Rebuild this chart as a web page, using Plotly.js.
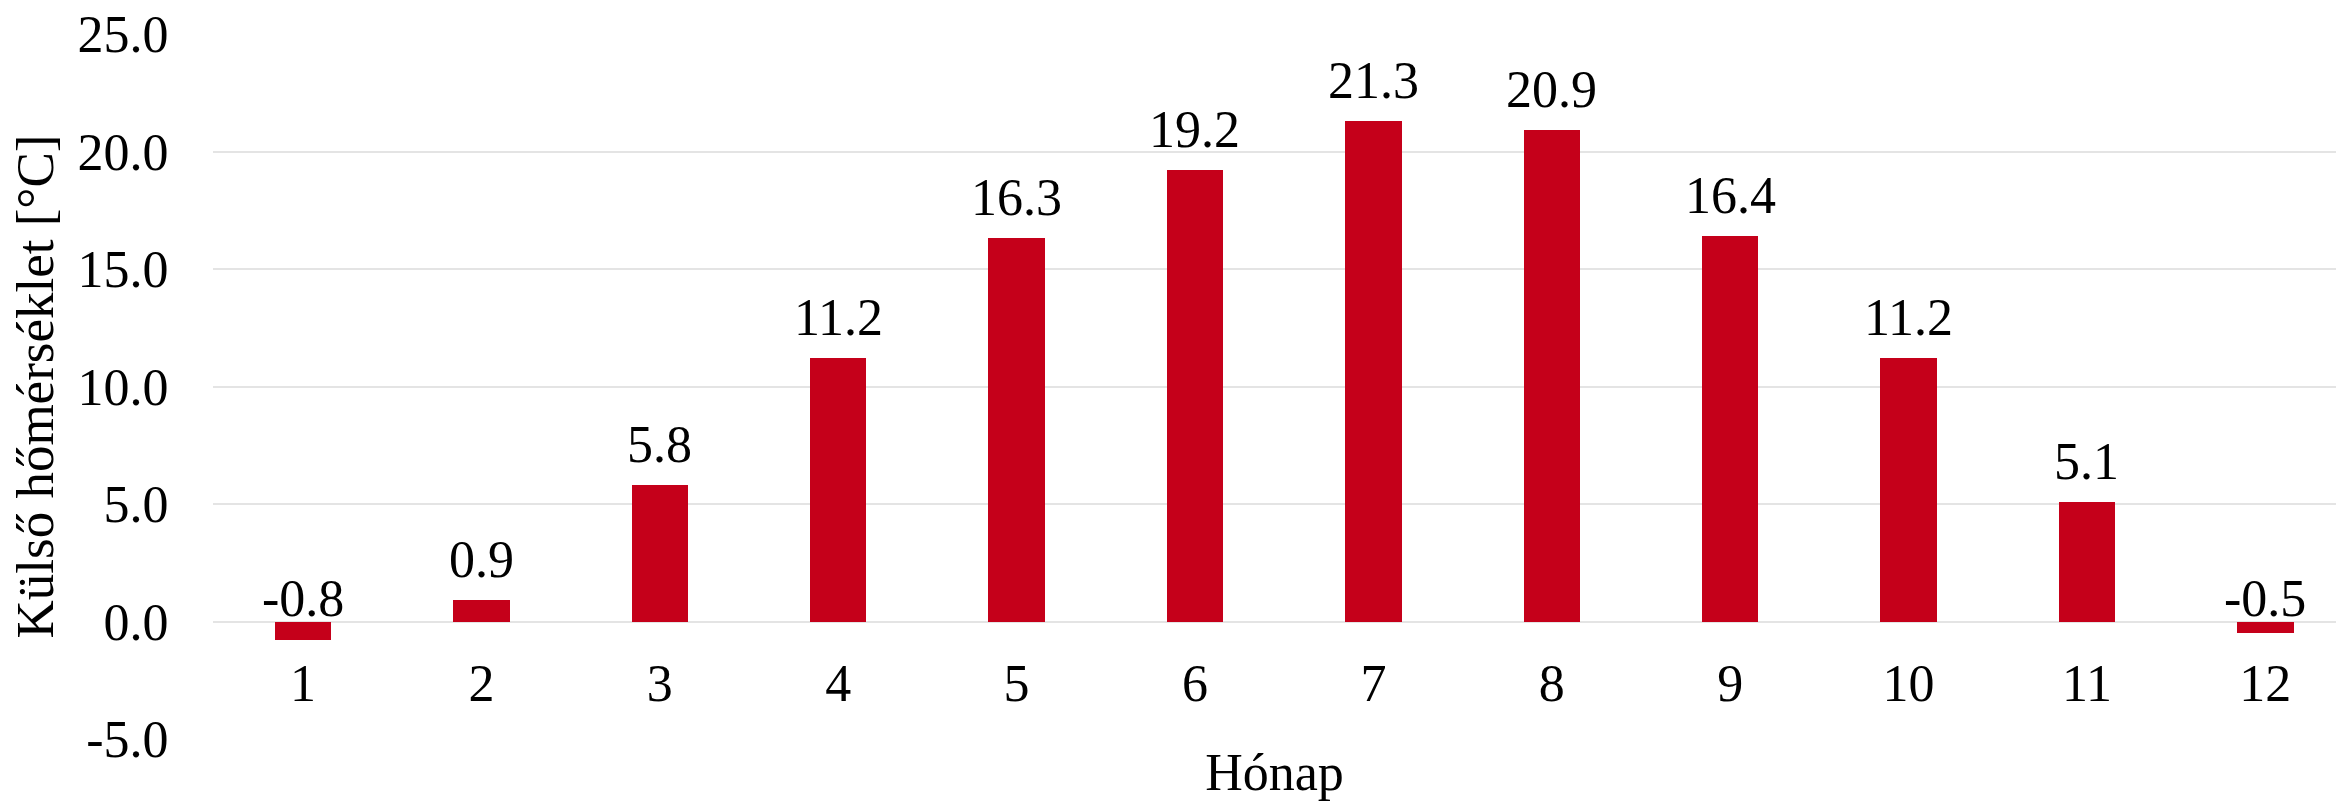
<!DOCTYPE html>
<html>
<head>
<meta charset="utf-8">
<script src="https://cdn.plot.ly/plotly-3.0.1.min.js"></script>
<style>
  html, body { margin: 0; padding: 0; background: #ffffff; overflow: hidden; }
  #chart { width: 2336px; height: 801px; }
</style>
</head>
<body>
<div id="chart"></div>
<script>
// Monthly mean outdoor temperature
const months = ['1', '2', '3', '4', '5', '6', '7', '8', '9', '10', '11', '12'];
const temps = [-0.8, 0.9, 5.8, 11.2, 16.3, 19.2, 21.3, 20.9, 16.4, 11.2, 5.1, -0.5];
const yTickVals = [-5, 0, 5, 10, 15, 20, 25];
const yTickText = yTickVals.map(v => v.toFixed(1));

const FONT = '"Liberation Serif", "Times New Roman", serif';
const BAR_RED = '#C5001A';
const GRID = '#E4E4E4';

const bars = {
  type: 'bar',
  x: months,
  y: temps,
  width: 0.317,
  marker: { color: BAR_RED, line: { width: 0 } },
  hoverinfo: 'x+y',
  showlegend: false
};

// value labels sit above the bar top (or above the zero line for negative months);
// on a category axis the annotation x is the category index
const valueLabels = months.map((m, i) => ({
  x: i,
  y: Math.max(temps[i], 0),
  xref: 'x',
  yref: 'y',
  text: temps[i].toFixed(1),
  showarrow: false,
  xanchor: 'center',
  yanchor: 'bottom',
  yshift: temps[i] >= 0 ? 10 : -7,
  font: { family: FONT, size: 52, color: '#000000' }
}));

const layout = {
  width: 2336,
  height: 801,
  margin: { l: 213, r: 0, t: 34, b: 62, pad: 0 },
  paper_bgcolor: '#ffffff',
  plot_bgcolor: '#ffffff',
  font: { family: FONT, size: 52, color: '#000000' },
  bargap: 0,
  xaxis: {
    type: 'category',
    range: [-0.5045, 11.396],
    anchor: 'free',
    position: 5 / 30,
    showgrid: false,
    zeroline: false,
    showline: false,
    ticks: 'outside',
    ticklen: 16,
    tickcolor: 'rgba(0,0,0,0)',
    tickfont: { family: FONT, size: 52, color: '#000000' },
    automargin: false,
    title: { text: 'Hónap', font: { family: FONT, size: 52, color: '#000000' }, standoff: 42 }
  },
  yaxis: {
    range: [-5, 25],
    domain: [0, 1],
    tickvals: yTickVals,
    ticktext: yTickText,
    showgrid: true,
    gridcolor: GRID,
    gridwidth: 2,
    zeroline: false,
    showline: false,
    ticks: 'outside',
    ticklen: 33,
    tickcolor: 'rgba(0,0,0,0)',
    tickfont: { family: FONT, size: 52, color: '#000000' },
    automargin: false,
    title: { text: 'Külső hőmérséklet [°C]', font: { family: FONT, size: 53, color: '#000000' }, standoff: 7 }
  },
  annotations: valueLabels,
  showlegend: false
};

Plotly.newPlot('chart', [bars], layout, { displayModeBar: false, staticPlot: true });
</script>
</body>
</html>
